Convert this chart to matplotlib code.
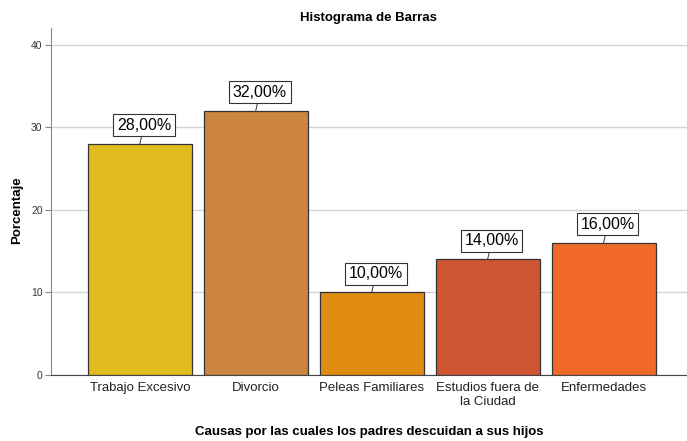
import matplotlib.pyplot as plt

plt.rcParams['font.family'] = ['Liberation Sans', 'DejaVu Sans']

categorias = ['Trabajo Excesivo', 'Divorcio', 'Peleas Familiares',
              'Estudios fuera de\nla Ciudad', 'Enfermedades']
porcentajes = [28.0, 32.0, 10.0, 14.0, 16.0]
colores = ['#E1BC1F', '#CC853F', '#E08C10', '#D05532', '#F26A2A']
etiquetas = ['28,00%', '32,00%', '10,00%', '14,00%', '16,00%']

fig = plt.figure(figsize=(6.87, 4.41), dpi=100)
ax = fig.add_axes([0.0742, 0.1497, 0.9258, 0.7868])

x = range(len(categorias))
ax.bar(x, porcentajes, width=0.897, color=colores, edgecolor='#333333', linewidth=0.9, zorder=3)

for i, (v, t) in enumerate(zip(porcentajes, etiquetas)):
    ax.annotate(t, xy=(i, v), xytext=(3, 8), textcoords='offset points',
                ha='center', va='bottom', fontsize=11.5, zorder=5,
                bbox=dict(boxstyle='square,pad=0.22', fc='white', ec='#333333', lw=0.8),
                arrowprops=dict(arrowstyle='-', color='#333333', lw=0.7, shrinkA=0, shrinkB=0))

ax.set_xlim(-0.767, 4.72)
ax.set_ylim(0, 42)
ax.set_yticks([0, 10, 20, 30, 40])
ax.yaxis.grid(True, color='#d4d4d4', linewidth=1, zorder=0)
ax.set_axisbelow(True)
ax.set_xticks(list(x))
ax.set_xticklabels(categorias, fontsize=9.5, color='#222222')
ax.tick_params(axis='x', length=0, pad=5)
ax.tick_params(axis='y', labelsize=7.5, length=4, color='#888888', labelcolor='#333333', pad=2)

for s in ['top', 'right']:
    ax.spines[s].set_visible(False)
ax.spines['left'].set_color('#888888')
ax.spines['bottom'].set_color('#444444')

fig.text(0.537, 1 - 18 / 441, 'Histograma de Barras', fontsize=9.5, fontweight='bold',
         ha='center', va='center')
fig.text(17 / 687, 1 - 210 / 441, 'Porcentaje', fontsize=9.5, fontweight='bold',
         rotation=90, ha='center', va='center')
fig.text(0.537, 1 - 432 / 441, 'Causas por las cuales los padres descuidan a sus hijos',
         fontsize=9.5, fontweight='bold', ha='center', va='center')

fig.savefig('out.png', dpi=100)
